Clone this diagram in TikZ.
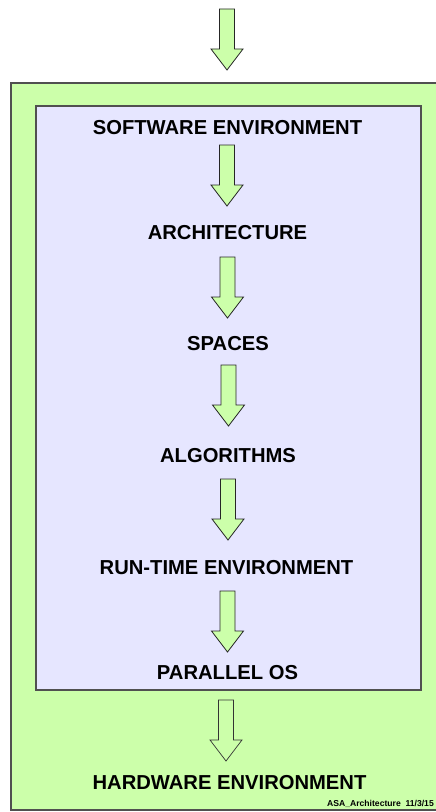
\documentclass[tikz,border=0pt]{standalone}
\usepackage{fontspec}
\setmainfont{Liberation Sans}
\begin{document}
\begin{tikzpicture}[x=1bp,y=-1bp]
\definecolor{lgreen}{RGB}{204,255,170}
\definecolor{lav}{RGB}{230,230,255}
\definecolor{edge}{RGB}{80,80,80}
\tikzset{
  outerbox/.style={fill=lgreen,draw=edge,line width=1.2bp},
  innerbox/.style={fill=lav,draw=edge,line width=1.2bp},
  label/.style={anchor=base,inner sep=0pt,font=\fontsize{20.2bp}{24bp}\selectfont\bfseries},
  foot/.style={anchor=base east,inner sep=0pt,font=\fontsize{8.6bp}{10bp}\selectfont\bfseries},
  arrowfill/.style={fill=lgreen,draw=black!85,line width=0.8bp,line join=miter},
  openarrow/.style={draw=black!80,line width=0.7bp,line join=miter},
  blockarrow/.pic={\path[pic actions] (-7.5,0) -- (7.5,0) -- (7.5,40) -- (16,40) -- (0,61) -- (-16,40) -- (-7.5,40) -- cycle;}
}
\useasboundingbox (0,0) rectangle (436,812);
\fill[white] (0,0) rectangle (436,812);
% boxes
\draw[outerbox] (11,83) rectangle (445,810);
\draw[innerbox] (36,106) rectangle (421,690);
% labels
\node[label] (sw) at (227.5,134) {SOFTWARE ENVIRONMENT};
\node[label] (arch) at (227.5,239) {ARCHITECTURE};
\node[label] (sp) at (228,350) {SPACES};
\node[label] (alg) at (228,462) {ALGORITHMS};
\node[label] (rt) at (226.5,574) {RUN-TIME ENVIRONMENT};
\node[label] (pos) at (227.5,679) {PARALLEL OS};
\node[label] (hw) at (229.5,789) {HARDWARE ENVIRONMENT};
\node[foot] (ft) at (434,806) {ASA\_Architecture\ \ 11/3/15};
% arrows
\pic[arrowfill] (a0) at (227,9) {blockarrow};
\pic[arrowfill] (a1) at (227,145) {blockarrow};
\pic[arrowfill] (a2) at (227.5,257) {blockarrow};
\pic[arrowfill] (a3) at (228.5,365) {blockarrow};
\pic[arrowfill] (a4) at (228,479) {blockarrow};
\pic[arrowfill] (a5) at (227.5,591) {blockarrow};
\pic[openarrow] (a6) at (226,700) {blockarrow};
\end{tikzpicture}
\end{document}
